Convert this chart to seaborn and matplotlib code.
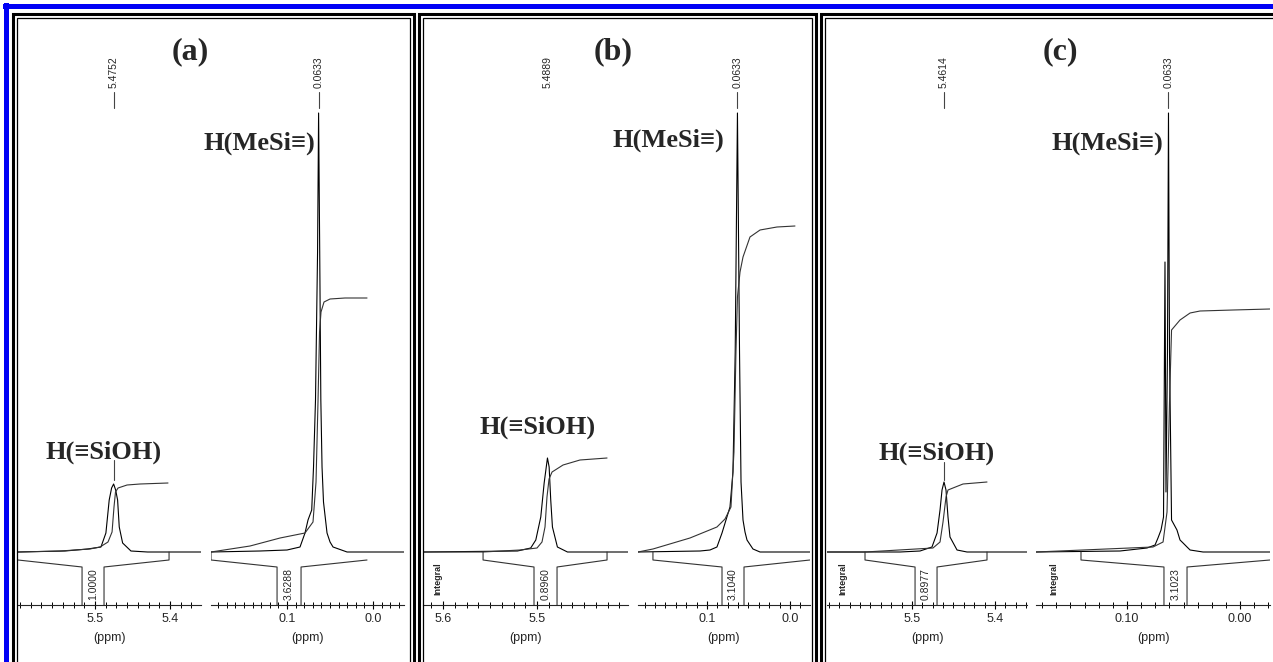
import matplotlib
matplotlib.use('Agg')
import matplotlib.pyplot as plt
from matplotlib.patches import Rectangle
from matplotlib.ticker import FixedLocator, MultipleLocator
import seaborn as sns

# ---------------- spectra (ppm, intensity above baseline) ----------------
# (a) H(=SiOH) region
a_oh_ppm = [5.6027, 5.5400, 5.5100, 5.4921, 5.4855, 5.4811, 5.4779, 5.4752, 5.4725, 5.4699, 5.4677, 5.4632, 5.4521, 5.4300, 5.3587]
a_oh_int = [0, 1, 3, 5, 19, 52, 64, 68, 62, 52, 25, 9, 1, 0, 0]
a_oh_ippm = [5.6027, 5.5467, 5.5067, 5.4933, 5.4827, 5.4773, 5.4747, 5.4727, 5.4693, 5.4573, 5.4400, 5.4027]
a_oh_ival = [0, 1, 3, 5, 10, 20, 45, 60, 64, 67, 68, 69]
# (a) H(MeSi=) region
a_me_ppm = [0.1884, 0.1314, 0.1000, 0.0849, 0.0791, 0.0756, 0.0713, 0.0692, 0.0669, 0.0645, 0.0633, 0.0620, 0.0607, 0.0593, 0.0576, 0.0535, 0.0500, 0.0465, 0.0302, -0.0360]
a_me_int = [0, 1, 2, 5, 19, 32, 42, 85, 152, 300, 439, 300, 152, 85, 50, 19, 10, 5, 0, 0]
a_me_ippm = [0.1884, 0.1430, 0.1081, 0.0791, 0.0698, 0.0663, 0.0640, 0.0622, 0.0605, 0.0570, 0.0500, 0.0326, 0.0070]
a_me_ival = [0, 6, 14, 19, 30, 70, 150, 220, 240, 250, 253, 254, 254]

# (b)
b_oh_ppm = [5.6213, 5.5208, 5.5067, 5.5013, 5.4960, 5.4924, 5.4889, 5.4871, 5.4854, 5.4836, 5.4783, 5.4676, 5.4032]
b_oh_int = [0, 1, 4, 12, 35, 69, 94, 85, 52, 25, 5, 0, 0]
b_oh_ippm = [5.6213, 5.5574, 5.5181, 5.5000, 5.4947, 5.4915, 5.4894, 5.4872, 5.4840, 5.4723, 5.4543, 5.4255]
b_oh_ival = [0, 0, 2, 4, 10, 25, 55, 73, 80, 87, 92, 94]
b_me_ppm = [0.1831, 0.1084, 0.0964, 0.0880, 0.0819, 0.0771, 0.0723, 0.0687, 0.0660, 0.0633, 0.0608, 0.0590, 0.0566, 0.0542, 0.0518, 0.0446, 0.0361, -0.0241]
b_me_int = [0, 1, 2, 5, 19, 32, 45, 80, 200, 439, 200, 70, 32, 20, 12, 3, 0, 0]
b_me_ippm = [0.1831, 0.1651, 0.1205, 0.0880, 0.0783, 0.0711, 0.0675, 0.0651, 0.0633, 0.0602, 0.0566, 0.0482, 0.0361, 0.0157, -0.0060]
b_me_ival = [0, 3, 14, 25, 33, 45, 100, 200, 255, 280, 295, 315, 322, 325, 326]

# (c)
c_oh_ppm = [5.6024, 5.5144, 5.4903, 5.4759, 5.4698, 5.4662, 5.4638, 5.4614, 5.4590, 5.4566, 5.4542, 5.4457, 5.4337, 5.3614]
c_oh_int = [0, 0, 1, 5, 19, 42, 62, 70, 62, 35, 15, 2, 0, 0]
c_oh_ippm = [5.6024, 5.5566, 5.4747, 5.4662, 5.4626, 5.4590, 5.4566, 5.4506, 5.4385, 5.4096]
c_oh_ival = [0, 0, 4, 10, 30, 55, 62, 64, 68, 70]
c_me_ppm = [0.1805, 0.1062, 0.0823, 0.0752, 0.0726, 0.0699, 0.0677, 0.0664, 0.0655, 0.0642, 0.0633, 0.0624, 0.0606, 0.0558, 0.0531, 0.0504, 0.0469, 0.0442, 0.0327, -0.0265]
c_me_int = [0, 1, 4, 7, 14, 22, 35, 290, 60, 200, 439, 200, 32, 22, 12, 9, 5, 2, 0, 0]
c_me_ippm = [0.1805, 0.0770, 0.0681, 0.0646, 0.0624, 0.0606, 0.0531, 0.0442, 0.0354, 0.0062, -0.0265]
c_me_ival = [0, 5, 10, 40, 150, 222, 232, 239, 241, 242, 243]

# integral regions (outer start, inner start, inner end, outer end) in ppm
a_oh_region = [5.6027, 5.5173, 5.4880, 5.4013]
a_me_region = [0.1884, 0.1116, 0.0837, 0.0070]
b_oh_region = [5.5574, 5.5032, 5.4787, 5.4255]
b_me_region = [0.1651, 0.0819, 0.0554, -0.0241]
c_oh_region = [5.5566, 5.4963, 5.4698, 5.4096]
c_me_region = [0.1407, 0.0673, 0.0469, -0.0265]

integral_values = ['1.0000', '3.6288', '0.8960', '3.1040', '0.8977', '3.1023']
peak_ppm = [5.4752, 0.0633, 5.4889, 0.0633, 5.4614, 0.0633]
peak_labels = ['5.4752', '0.0633', '5.4889', '0.0633', '5.4614', '0.0633']
panel_labels = ['(a)', '(b)', '(c)']

# ---------------- figure ----------------
sns.set_style('white')
plt.rcParams['font.family'] = ['Liberation Sans', 'DejaVu Sans']
SERIF = ['Liberation Serif', 'DejaVu Serif']

W, H = 1273, 662
fig = plt.figure(figsize=(W / 100, H / 100), dpi=100)


def frame(x0, y0, x1, y1, **kw):
    # rectangle given in image pixels (origin top-left)
    fig.add_artist(Rectangle((x0 / W, 1 - y1 / H), (x1 - x0) / W, (y1 - y0) / H,
                             transform=fig.transFigure, **kw))


# blue outer border (top and left only visible)
frame(3, 3.5, 1290, 8.5, color='#0000f5', lw=0)
frame(3.5, 3, 8.5, 700, color='#0000f5', lw=0)
# double black frames of the three panels
for x0, x1 in [(12.5, 414), (418.5, 816), (821, 1300)]:
    frame(x0, 13.5, x1, 720, fill=False, ec='black', lw=2.2)
    frame(x0 + 4, 17.5, x1 - 4, 720, fill=False, ec='black', lw=0.9)

# layout of the six sub-spectra: pixel span, ppm limits, tick setup
subs = [
    dict(px=(18, 201), lim=(5.6027, 5.3587), major=[5.5, 5.4], fmt='{:.1f}', minor=0.1 / 7,
         x=a_oh_ppm, y=a_oh_int, ix=a_oh_ippm, iy=a_oh_ival, reg=a_oh_region, opn=(True, False),
         line=True, tag=None),
    dict(px=(211, 404), lim=(0.1884, -0.0360), major=[0.1, 0.0], fmt='{:.1f}', minor=0.01,
         x=a_me_ppm, y=a_me_int, ix=a_me_ippm, iy=a_me_ival, reg=a_me_region, opn=(False, True),
         line=True, tag=None),
    dict(px=(423, 628), lim=(5.6213, 5.4032), major=[5.6, 5.5], fmt='{:.1f}', minor=0.0125,
         x=b_oh_ppm, y=b_oh_int, ix=b_oh_ippm, iy=b_oh_ival, reg=b_oh_region, opn=(False, False),
         line=False, tag=5.6053),
    dict(px=(638, 810), lim=(0.1831, -0.0241), major=[0.1, 0.0], fmt='{:.1f}', minor=0.0125,
         x=b_me_ppm, y=b_me_int, ix=b_me_ippm, iy=b_me_ival, reg=b_me_region, opn=(False, True),
         line=True, tag=None),
    dict(px=(827, 1027), lim=(5.6024, 5.3614), major=[5.5, 5.4], fmt='{:.1f}', minor=0.0125,
         x=c_oh_ppm, y=c_oh_int, ix=c_oh_ippm, iy=c_oh_ival, reg=c_oh_region, opn=(False, False),
         line=True, tag=5.5831),
    dict(px=(1036, 1270), lim=(0.1805, -0.0265), major=[0.10, 0.00], fmt='{:.2f}', minor=0.0125,
         x=c_me_ppm, y=c_me_int, ix=c_me_ippm, iy=c_me_ival, reg=c_me_region, opn=(False, True),
         line=True, tag=0.1646),
]

AX_BOTTOM, AX_TOP = 605, 20
axes = []
for i, s in enumerate(subs):
    x0, x1 = s['px']
    ax = fig.add_axes([x0 / W, 1 - AX_BOTTOM / H, (x1 - x0) / W, (AX_BOTTOM - AX_TOP) / H])
    ax.patch.set_visible(False)
    axes.append(ax)

    sns.lineplot(x=s['x'], y=s['y'], ax=ax, color='black', lw=0.8, estimator=None, sort=False)
    sns.lineplot(x=s['ix'], y=s['iy'], ax=ax, color='#333333', lw=0.8, estimator=None, sort=False)

    # integral region bracket below the baseline
    L, l, r, R = s['reg']
    lx, ly = [L, L, l, l], [0, -8, -15, -53]
    rx, ry = [r, r, R, R], [-53, -15, -8, 0]
    if s['opn'][0]:
        lx, ly = lx[1:], ly[1:]
    if s['opn'][1]:
        rx, ry = rx[:-1], ry[:-1]
    ax.plot(lx, ly, color='#333333', lw=0.8)
    ax.plot(rx, ry, color='#333333', lw=0.8)
    ax.text((l + r) / 2, -32, integral_values[i], rotation=90, ha='center', va='center', fontsize=7.5)
    if s['tag'] is not None:
        ax.text(s['tag'], -27, 'Integral', rotation=90, ha='center', va='center',
                fontsize=6.5, fontweight='bold')

    # peak label at the top
    ax.text(peak_ppm[i], 480, peak_labels[i], rotation=90, ha='center', va='center', fontsize=7.5)
    if s['line']:
        ax.plot([peak_ppm[i]] * 2, [444, 460], color='#444444', lw=0.8)

    ax.set_xlim(*s['lim'])
    ax.set_ylim(-53, 532)
    ax.xaxis.set_major_locator(FixedLocator(s['major']))
    ax.xaxis.set_minor_locator(MultipleLocator(s['minor']))
    ax.set_xticklabels([s['fmt'].format(v) for v in s['major']])
    ax.set_yticks([])
    for side in ['top', 'left', 'right']:
        ax.spines[side].set_visible(False)
    ax.spines['bottom'].set_linewidth(0.8)
    ax.tick_params(axis='x', which='both', bottom=True, color='black')
    ax.tick_params(axis='x', which='major', direction='inout', length=6, width=0.8,
                   labelsize=9, pad=3)
    ax.tick_params(axis='x', which='minor', direction='inout', length=4, width=0.7)
    ax.set_xlabel('(ppm)', fontsize=9)
    ax.xaxis.set_label_coords(0.5, -27 / (AX_BOTTOM - AX_TOP))

# pointer segments under the H(=SiOH) labels
axes[0].plot([5.4752] * 2, [72, 92], color='#444444', lw=0.8)
axes[4].plot([5.4614] * 2, [72, 90], color='#444444', lw=0.8)

# peak assignment labels
hkw = dict(fontsize=19, fontweight='bold', family=SERIF, va='center')
axes[0].text(5.4887, 100, 'H(\u2261SiOH)', ha='center', **hkw)
axes[2].text(5.4995, 125, 'H(\u2261SiOH)', ha='center', **hkw)
axes[4].text(5.4704, 99, 'H(\u2261SiOH)', ha='center', **hkw)
axes[1].text(0.0674, 409, 'H(MeSi\u2261)', ha='right', **hkw)
axes[3].text(0.0795, 412, 'H(MeSi\u2261)', ha='right', **hkw)
axes[5].text(0.0681, 409, 'H(MeSi\u2261)', ha='right', **hkw)

# panel letters
for lbl, xc in zip(panel_labels, [190, 613, 1060]):
    fig.text(xc / W, 1 - 52 / H, lbl, ha='center', va='center', fontsize=23,
             fontweight='bold', family=SERIF)

fig.savefig('out.png', dpi=100)
